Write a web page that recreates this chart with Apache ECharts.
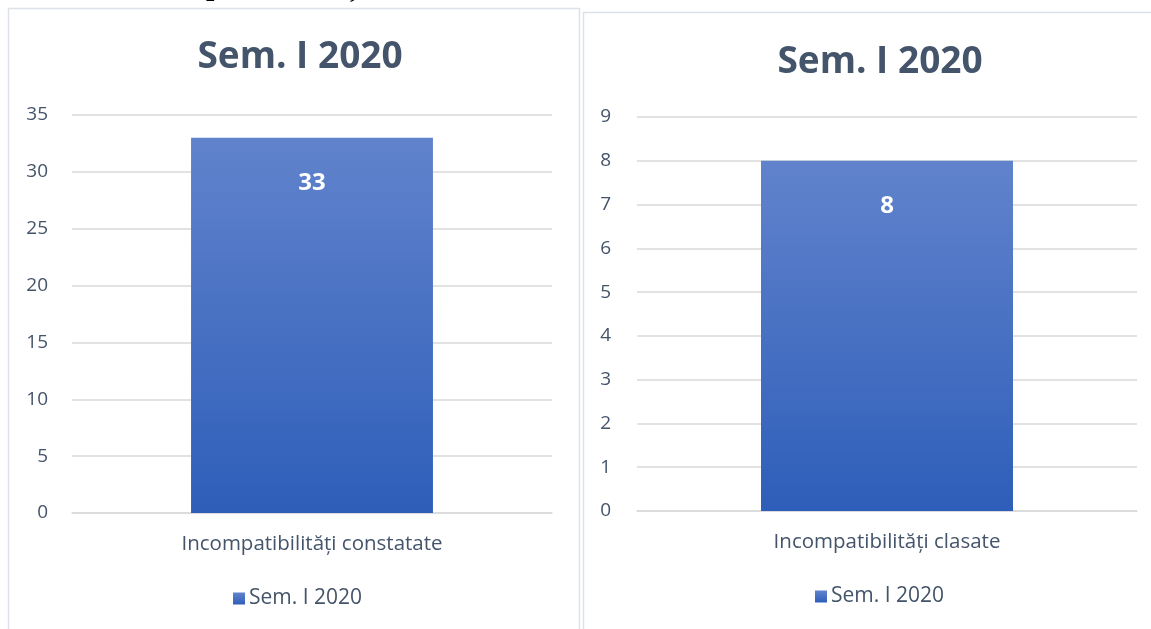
<!DOCTYPE html>
<html>
<head>
<meta charset="utf-8">
<script src="https://cdn.jsdelivr.net/npm/echarts@6/dist/echarts.min.js"></script>
<style>
html,body{margin:0;padding:0;background:#fff;}
#c{width:1151px;height:629px;}
</style>
</head>
<body>
<div id="c"></div>
<script>
const seriesName = 'Sem. I 2020';
const titleLeft = 'Sem. I 2020';
const titleRight = 'Sem. I 2020';
const categoriesLeft = ['Incompatibilități constatate'];
const valuesLeft = [33];
const categoriesRight = ['Incompatibilități clasate'];
const valuesRight = [8];

const FONT = '"Open Sans", "Noto Sans", sans-serif';
const TXT = '#44546a';
const GRID = '#d9d9d9';
const barGrad = new echarts.graphic.LinearGradient(0, 0, 0, 1, [
  {offset: 0, color: '#6183cc'},
  {offset: 1, color: '#2e5eb9'}
]);

function yAxis(gridIndex, max, interval, margin) {
  return {
    type: 'value', gridIndex: gridIndex, min: 0, max: max, interval: interval,
    axisLine: {show: false}, axisTick: {show: false},
    axisLabel: {color: TXT, fontFamily: FONT, fontSize: 19, margin: margin},
    splitLine: {lineStyle: {color: GRID, width: 1.5}}
  };
}
function xAxis(gridIndex, cats) {
  return {
    type: 'category', gridIndex: gridIndex, data: cats,
    axisLine: {lineStyle: {color: GRID, width: 1.5}}, axisTick: {show: false},
    axisLabel: {color: TXT, fontFamily: FONT, fontSize: 20.5, margin: 21}
  };
}
function barSeries(idx, vals) {
  return {
    name: seriesName, type: 'bar', xAxisIndex: idx, yAxisIndex: idx,
    data: vals, barWidth: '50.4%',
    itemStyle: {color: barGrad},
    label: {show: true, position: 'insideTop', distance: 33, color: '#fff',
      fontFamily: FONT, fontWeight: 'bold', fontSize: 24}
  };
}
function legend(left, top) {
  return {data: [{name: seriesName, icon: 'rect'}], left: left, top: top,
    itemWidth: 12, itemHeight: 12, itemGap: 4,
    textStyle: {color: TXT, fontFamily: FONT, fontSize: 21, padding: [0, 0, 0, -1]}};
}

const chart = echarts.init(document.getElementById('c'));
chart.setOption({
  animation: false,
  graphic: [
    {type: 'rect', shape: {x: 8.5, y: 8.5, width: 571, height: 640}, style: {fill: 'none', stroke: '#dde1e8', lineWidth: 1.5}},
    {type: 'rect', shape: {x: 583.5, y: 12.5, width: 580, height: 640}, style: {fill: 'none', stroke: '#dde1e8', lineWidth: 1.5}},
    {type: 'text', left: 206, top: -28, style: {text: 'p', fill: '#000', font: 'bold 30px "Liberation Serif", serif'}},
    {type: 'text', left: 350, top: -26, style: {text: ',', fill: '#000', font: 'bold 30px "Liberation Serif", serif'}}
  ],
  title: [
    {text: titleLeft, left: 295, top: 34, textAlign: 'center',
      textStyle: {color: TXT, fontFamily: FONT, fontWeight: 'bold', fontSize: 37}},
    {text: titleRight, left: 875, top: 39, textAlign: 'center',
      textStyle: {color: TXT, fontFamily: FONT, fontWeight: 'bold', fontSize: 37}}
  ],
  legend: [legend(228, 583), legend(810, 581)],
  grid: [
    {left: 72, right: 599, top: 115, bottom: 116},
    {left: 637, right: 14, top: 117, bottom: 118}
  ],
  xAxis: [xAxis(0, categoriesLeft), xAxis(1, categoriesRight)],
  yAxis: [yAxis(0, 35, 5, 24), yAxis(1, 9, 1, 26)],
  series: [barSeries(0, valuesLeft), barSeries(1, valuesRight)]
});
</script>
</body>
</html>
